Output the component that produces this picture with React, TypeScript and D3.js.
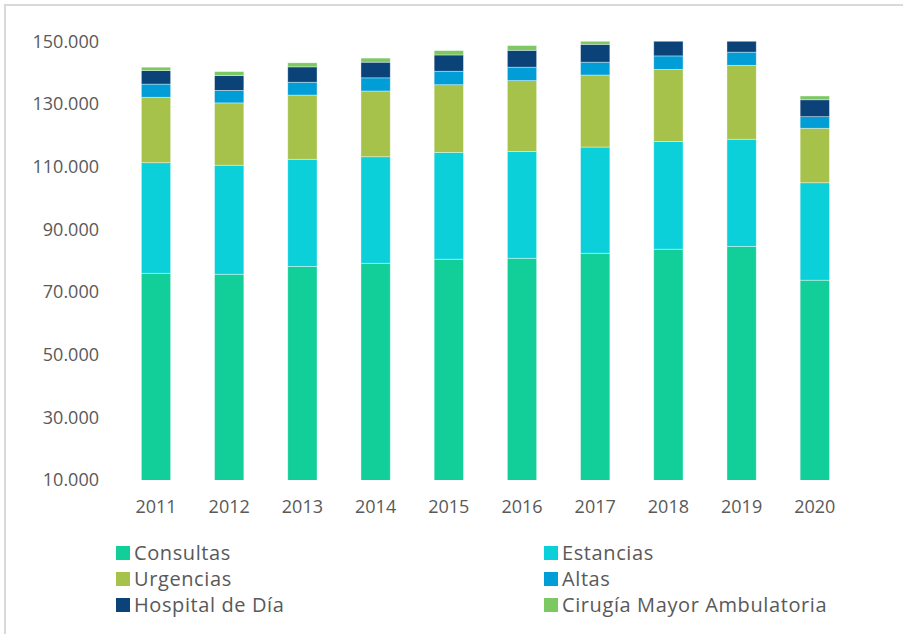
import React, { useEffect, useRef } from 'react';
import * as d3 from 'd3';

// data (units)
const years = ['2011', '2012', '2013', '2014', '2015', '2016', '2017', '2018', '2019', '2020'];
const consultas = [76000, 75700, 78200, 79200, 80500, 80800, 82400, 83700, 84600, 73800];
const estancias = [35300, 34800, 34200, 34000, 34100, 34100, 33900, 34400, 34200, 31100];
const urgencias = [20900, 19900, 20500, 21000, 21600, 22600, 23000, 23000, 23600, 17400];
const altas = [4200, 4000, 4100, 4200, 4300, 4300, 4100, 4300, 4200, 3700];
const hospitalDia = [4300, 4700, 4900, 5000, 5200, 5400, 5700, 5800, 6000, 5400];
const cirugia = [1100, 1300, 1300, 1300, 1400, 1500, 1400, 1500, 1500, 1200];
const yTicks = [10000, 30000, 50000, 70000, 90000, 110000, 130000, 150000];

const seriesNames = ['Consultas', 'Estancias', 'Urgencias', 'Altas', 'Hospital de Día', 'Cirugía Mayor Ambulatoria'];
const seriesColors = ['#12cf9a', '#0bd0da', '#a6c24a', '#009dd6', '#0b4379', '#7cc862'];

const width = 903;
const height = 634;
const font = '"Open Sans", sans-serif';

const App = () => {
  const svgRef = useRef<SVGSVGElement>(null);

  useEffect(() => {
    const svg = d3.select(svgRef.current);
    svg.selectAll('*').remove();

    const table = years.map((y, i) => ({
      year: y,
      Consultas: consultas[i],
      Estancias: estancias[i],
      Urgencias: urgencias[i],
      Altas: altas[i],
      'Hospital de Día': hospitalDia[i],
      'Cirugía Mayor Ambulatoria': cirugia[i],
    }));

    const xScale = d3.scaleBand()
      .domain(years)
      .range([119.4, 851.4])
      .paddingInner(0.6)
      .paddingOuter(0.3);

    const yScale = d3.scaleLinear()
      .domain([10000, 150000])
      .range([480, 41.5]);

    // frame (top + left only)
    svg.append('line').attr('x1', 5).attr('x2', width).attr('y1', 5).attr('y2', 5)
      .attr('stroke', '#d9d9d9').attr('stroke-width', 2);
    svg.append('line').attr('x1', 5).attr('x2', 5).attr('y1', 4).attr('y2', height)
      .attr('stroke', '#d9d9d9').attr('stroke-width', 2);

    svg.append('clipPath').attr('id', 'plot-clip')
      .append('rect')
      .attr('x', 100).attr('y', yScale(150000))
      .attr('width', 780).attr('height', yScale(10000) - yScale(150000));

    const stacked = d3.stack<any>().keys(seriesNames)(table);

    svg.append('g').attr('clip-path', 'url(#plot-clip)')
      .selectAll('g')
      .data(stacked)
      .join('g')
      .attr('fill', (_, i) => seriesColors[i])
      .selectAll('rect')
      .data(d => d)
      .join('rect')
      .attr('x', d => xScale(d.data.year) as number)
      .attr('y', d => yScale(d[1]))
      .attr('width', xScale.bandwidth())
      .attr('height', d => yScale(d[0]) - yScale(d[1]))
      .attr('stroke', 'rgba(255,255,255,0.5)')
      .attr('stroke-width', 0.75);

    // y labels
    svg.append('g')
      .selectAll('text')
      .data(yTicks)
      .join('text')
      .attr('x', 99)
      .attr('y', d => yScale(d))
      .attr('dy', '0.35em')
      .attr('text-anchor', 'end')
      .attr('font-family', font)
      .attr('font-size', 18)
      .attr('fill', '#595959')
      .text(d => d3.format(',')(d).replace(/,/g, '.'));

    // x labels
    svg.append('g')
      .selectAll('text')
      .data(years)
      .join('text')
      .attr('x', d => (xScale(d) as number) + xScale.bandwidth() / 2)
      .attr('y', 513)
      .attr('text-anchor', 'middle')
      .attr('font-family', font)
      .attr('font-size', 18)
      .attr('fill', '#595959')
      .text(d => d);

    // legend, two columns
    const legend = svg.append('g')
      .selectAll('g')
      .data(seriesNames)
      .join('g')
      .attr('transform', (_, i) => `translate(${i % 2 === 0 ? 116 : 544}, ${553 + Math.floor(i / 2) * 26})`);

    legend.append('rect')
      .attr('x', 0).attr('y', -7)
      .attr('width', 14).attr('height', 14)
      .attr('fill', (_, i) => seriesColors[i]);

    legend.append('text')
      .attr('x', 18)
      .attr('dy', '0.35em')
      .attr('font-family', font)
      .attr('font-size', 20)
      .attr('letter-spacing', 0.6)
      .attr('fill', '#595959')
      .text(d => d);
  }, []);

  return (
    <div style={{ position: 'fixed', left: 0, top: 0, background: '#fff' }}>
      <svg ref={svgRef} width={width} height={height} style={{ display: 'block' }} />
    </div>
  );
};

export default App;
